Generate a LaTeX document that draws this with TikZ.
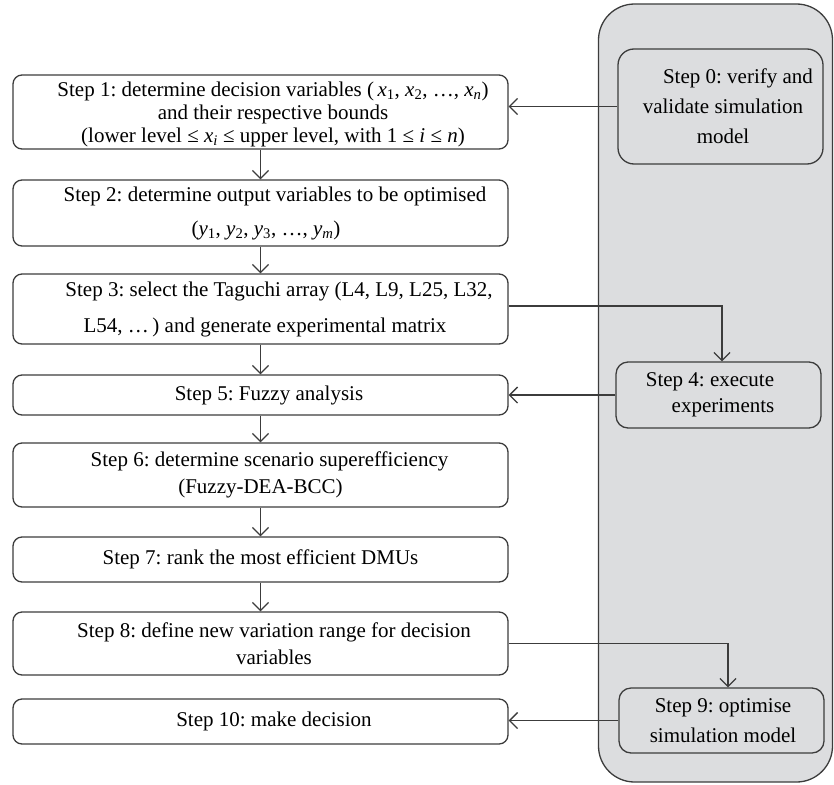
\documentclass[tikz,border=0pt]{standalone}
\usepackage{fontspec}
\setmainfont{Liberation Serif}
\usetikzlibrary{arrows.meta}
\definecolor{panelgray}{HTML}{DCDDDF}
\definecolor{linegray}{HTML}{3C3C3C}
\frenchspacing
\newcommand{\mvar}[2]{\textit{#1}\textsubscript{#2}}
\begin{document}
\begin{tikzpicture}[x=1pt,y=-1pt,
  box/.style={draw=linegray, line width=1.3pt, rounded corners=9pt, minimum width=495pt, inner sep=0pt},
  gbox/.style={draw=linegray, fill=panelgray, line width=1.3pt, rounded corners=14pt, minimum width=205pt, inner sep=0pt},
  panel/.style={draw=linegray, fill=panelgray, line width=1.3pt, rounded corners=36pt, inner sep=0pt},
  txt/.style={align=center, inner sep=0pt, text=black, font=\fontsize{21}{#1}\selectfont\frenchspacing},
  txt/.default=25,
  conn/.style={draw=linegray, line width=1.3pt, -{Straight Barb[length=8pt,width=16pt]}}]
\useasboundingbox (0,0) rectangle (834,784);

% grey panel
\node[panel, minimum width=234pt, minimum height=778pt] (panel) at (715.5,393) {};

% left column boxes
\node[box, minimum height=74pt] (s1) at (260.5,112) {};
\node[txt=23] (t1) at ([xshift=12.5pt,yshift=-2pt]s1.center) {Step 1: determine decision variables (\,\mvar{x}{1}, \mvar{x}{2}, \dots, \mvar{x}{\textit{n}})\\ and their respective bounds\\ (lower level ≤ \mvar{x}{\textit{i}} ≤ upper level, with 1 ≤ \textit{i} ≤ \textit{n})};

\node[box, minimum height=66pt] (s2) at (260.5,213) {};
\node[txt=34] (t2) at ([xshift=14.5pt]s2.center) {Step 2: determine output variables to be optimised\\ (\mvar{y}{1}, \mvar{y}{2}, \mvar{y}{3}, \dots, \mvar{y}{\textit{m}})\hspace*{18pt}};

\node[box, minimum height=70pt] (s3) at (260.5,309) {};
\node[txt=36] (t3) at ([xshift=18.5pt]s3.center) {Step 3: select the Taguchi array (L4, L9, L25, L32,\\ L54, \dots\,) and generate experimental matrix\hspace*{28pt}};

\node[box, minimum height=40pt] (s5) at (260.5,395) {};
\node[txt] (t5) at ([xshift=8.5pt]s5.center) {Step 5: Fuzzy analysis};

\node[box, minimum height=64pt] (s6) at (260.5,475) {};
\node[txt=27] (t6) at ([xshift=9pt]s6.center) {Step 6: determine scenario superefficiency\\ (Fuzzy-DEA-BCC)\hspace*{18pt}};

\node[box, minimum height=45pt] (s7) at (260.5,559.5) {};
\node[txt] (t7) at (s7.center) {Step 7: rank the most efficient DMUs};

\node[box, minimum height=63pt] (s8) at (260.5,643.5) {};
\node[txt=27] (t8) at ([xshift=13.5pt]s8.center) {Step 8: define new variation range for decision\\ variables};

\node[box, minimum height=45pt] (s10) at (260.5,721.5) {};
\node[txt] (t10) at ([xshift=13.5pt]s10.center) {Step 10: make decision};

% right column boxes
\node[gbox, minimum height=115pt, rounded corners=16pt] (s0) at (720.5,106.5) {};
\node[txt=30] (t0) at ([xshift=2.5pt]s0.center) {\hspace*{30pt}Step 0: verify and\\ validate simulation\\ model};

\node[gbox, minimum height=66pt, rounded corners=12pt] (s4) at (718.5,395) {};
\node[txt=26] (t4) at ([xshift=-8.5pt]s4.center) {Step 4: execute\\ \hspace*{26pt}experiments};

\node[gbox, minimum height=65pt, rounded corners=12pt] (s9) at (721.5,720.5) {};
\node[txt=30] (t9) at ([xshift=1.5pt]s9.center) {Step 9: optimise\\ simulation model};

% connectors
\draw[conn] (s1.south) -- (s2.north);
\draw[conn] (s2.south) -- (s3.north);
\draw[conn] (s3.south) -- (s5.north);
\draw[conn] (s5.south) -- (s6.north);
\draw[conn] (s6.south) -- (s7.north);
\draw[conn] (s7.south) -- (s8.north);
\draw[conn] (s0.west) -- (s0.west -| s1.east);
\draw[conn] ([yshift=3pt]s3.east) -| ([xshift=3.5pt]s4.north);
\draw[conn] (s4.west) -- (s4.west -| s5.east);
\draw[conn] (s8.east) -| ([xshift=6.5pt]s9.north);
\draw[conn] (s9.west) -- (s9.west -| s10.east);
\end{tikzpicture}
\end{document}
